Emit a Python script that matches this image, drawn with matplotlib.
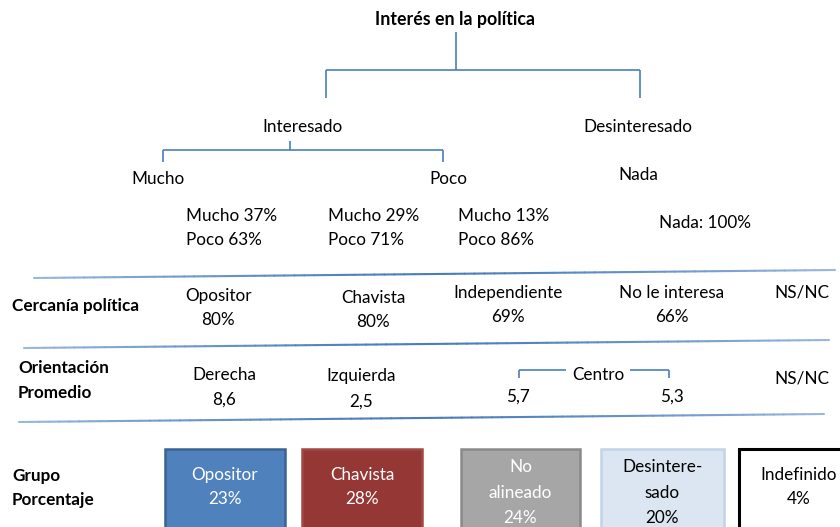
import matplotlib
matplotlib.use("Agg")
import matplotlib.pyplot as plt
from matplotlib.patches import Rectangle
from matplotlib.collections import LineCollection
import numpy as np

plt.rcParams['font.family'] = ['Lato', 'DejaVu Sans']

# ---- data ----
title = "Interés en la política"
top_groups = ["Interesado", "Desinteresado"]
sub_groups = ["Mucho", "Poco", "Nada"]
breakdown_labels = ["Mucho", "Poco"]
breakdown_mucho = [37, 29, 13]
breakdown_poco = [63, 71, 86]
nada_value = 100

cercania_labels = ["Opositor", "Chavista", "Independiente", "No le interesa", "NS/NC"]
cercania_values = [80, 80, 69, 66, None]

orient_labels = ["Derecha", "Izquierda", "Centro", "NS/NC"]
orient_values = ["8,6", "2,5", "5,7", "5,3"]

group_labels = [["Opositor"], ["Chavista"], ["No", "alineado"], ["Desintere-", "sado"], ["Indefinido"]]
group_pct = [23, 28, 24, 20, 4]
group_fill = ["#4f81bd", "#953735", "#a6a6a6", "#dce6f2", "#ffffff"]
group_edge = ["#3a6393", "#a04846", "#8a8a8a", "#c3d3e8", "#000000"]
group_text = ["white", "white", "white", "black", "black"]

# ---- figure ----
fig = plt.figure(figsize=(8.4, 5.27), dpi=100)
ax = fig.add_axes([0, 0, 1, 1])
ax.set_xlim(0, 840)
ax.set_ylim(527, 0)
ax.axis('off')

FS = 12.3
FSB = 12.3
line_c = "#4a7ebb"
lw = 1.2

def seg(xs, ys, c=line_c, w=lw):
    ax.plot(xs, ys, color=c, lw=w, solid_capstyle='butt')

def t(x, y, s, ha='center', **kw):
    ax.text(x, y, s, ha=ha, va='center', fontsize=kw.pop('fontsize', FS), **kw)

# title + top tree
t(455, 19, title, fontsize=12.8, fontweight='bold')
seg([456, 456], [32, 70])
seg([326, 640], [70, 70])
seg([326, 326], [70, 98])
seg([640, 640], [70, 98])

t(302, 127, top_groups[0])
t(638, 127, top_groups[1])

seg([290, 290], [141, 150])
seg([163, 443], [150, 150])
seg([163, 163], [150, 162])
seg([443, 443], [150, 162])

t(158, 179, sub_groups[0])
t(448, 179, sub_groups[1])
t(638, 175, sub_groups[2])

for x, m, p in zip([186, 328, 458], breakdown_mucho, breakdown_poco):
    t(x, 216, f"{breakdown_labels[0]} {m}%", ha='left')
    t(x, 240, f"{breakdown_labels[1]} {p}%", ha='left')
t(705, 223, f"Nada: {nada_value}%")

# separator lines with gradient (light ends, darker middle)
def grad_line(x0, y0, x1, y1):
    n = 80
    xs = np.linspace(x0, x1, n + 1)
    ys = np.linspace(y0, y1, n + 1)
    segs = np.stack([np.column_stack([xs[:-1], ys[:-1]]), np.column_stack([xs[1:], ys[1:]])], axis=1)
    dark = np.array([0.29, 0.49, 0.73])
    light = np.array([0.60, 0.72, 0.87])
    tt = np.linspace(0, 1, n)
    w = (np.abs(tt - 0.5) * 2)[:, None] ** 1.5
    cols = dark * (1 - w) + light * w
    ax.add_collection(LineCollection(segs, colors=cols, linewidths=1.5, capstyle='round'))

grad_line(34, 278, 835, 270)
grad_line(24, 348, 829, 340)
grad_line(19, 422, 824, 414)

# Cercanía política
t(12, 306, "Cercanía política", ha='left', fontsize=FSB, fontweight='bold')
cx = [218, 373, 508, 672, 802]
cy = [296, 298, 293, 293, 293]
for x, y, lab, v in zip(cx, cy, cercania_labels, cercania_values):
    t(x, y, lab)
    if v is not None:
        t(x, y + 24, f"{v}%")

# Orientación promedio
t(18, 368, "Orientación", ha='left', fontsize=FSB, fontweight='bold')
t(18, 393, "Promedio", ha='left', fontsize=FSB, fontweight='bold')
t(224, 375, orient_labels[0])
t(224, 400, orient_values[0])
t(361, 376, orient_labels[1])
t(361, 402, orient_values[1])
t(598, 375, orient_labels[2])
seg([519, 519], [370, 378])
seg([519, 566], [370, 370])
seg([630, 669], [370, 370])
seg([669, 669], [370, 378])
t(518, 397, orient_values[2])
t(672, 397, orient_values[3])
t(802, 378, orient_labels[3])

# Grupo porcentaje
t(12, 476, "Grupo", ha='left', fontsize=FSB, fontweight='bold')
t(12, 500, "Porcentaje", ha='left', fontsize=FSB, fontweight='bold')
bx = [165, 302, 461, 601, 739]
bw = [120, 120, 119, 123, 120]
top = 449
for x, w, lab, p, fc, ec, tc in zip(bx, bw, group_labels, group_pct, group_fill, group_edge, group_text):
    lwb = 2.2 if ec == "#000000" else 1.8
    ax.add_patch(Rectangle((x, top), w, 120, facecolor=fc, edgecolor=ec, lw=lwb))
    lines = lab + [f"{p}%"]
    ys = [475, 499] if len(lines) == 2 else [467, 493, 518]
    for yy, s in zip(ys, lines):
        t(x + w / 2, yy, s, color=tc)

fig.savefig("out.png", dpi=100)
